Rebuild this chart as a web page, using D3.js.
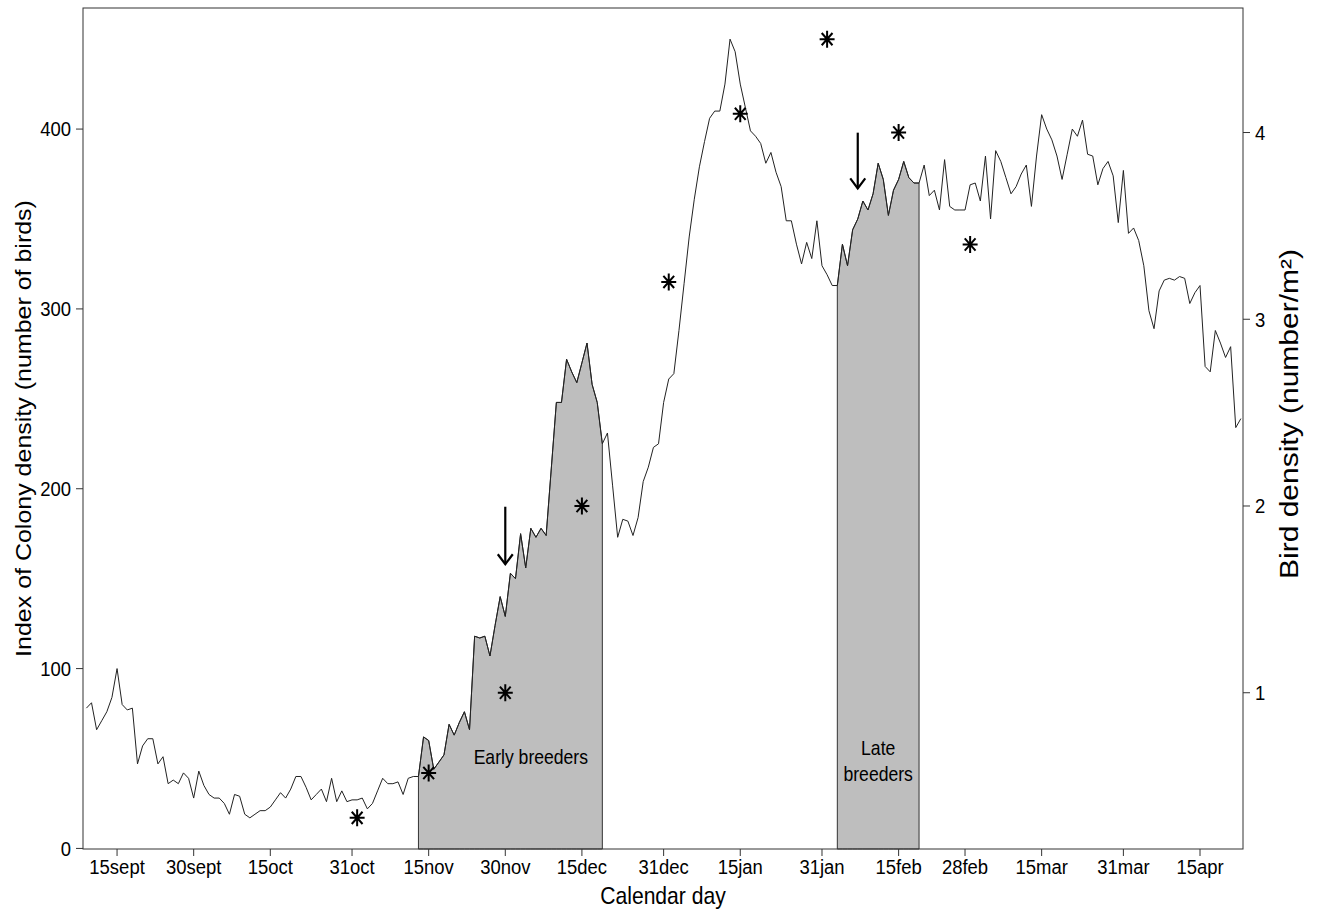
<!DOCTYPE html>
<html>
<head>
<meta charset="utf-8">
<script src="https://cdn.jsdelivr.net/npm/d3@7"></script>
<style>
  body { margin: 0; background: #fff; }
  text { font-family: "Liberation Sans", Arial, sans-serif; fill: #000; }
</style>
</head>
<body>
<svg id="chart" width="1317" height="915"></svg>
<script>
// Daily index of colony density (number of birds), one value per day from the first date
const firstDay = "2010-09-09";
const colonyIndex = [
  78, 81, 66, 71, 76, 84, 100, 80, 77, 78,
  47, 57, 61, 61, 47, 51, 36, 38, 36, 42,
  39, 28, 43, 35, 30, 28, 28, 25, 19, 30,
  29, 19, 17, 19, 21, 21, 23, 27, 31, 28,
  33, 40, 40, 34, 27, 30, 33, 26, 39, 26,
  32, 26, 27, 27, 28, 22, 25, 32, 39, 36,
  36, 37, 30, 39, 40, 40, 62, 60, 44, 48,
  52, 69, 63, 70, 76, 66, 118, 117, 118, 107,
  124, 140, 129, 153, 150, 175, 156, 178, 173, 178,
  174, 211, 248, 248, 272, 265, 259, 270, 281, 258,
  248, 225, 231, 202, 173, 183, 182, 174, 184, 204,
  212, 223, 225, 248, 261, 264, 288, 314, 340, 361,
  379, 393, 406, 410, 410, 425, 450, 443, 425, 412,
  399, 396, 392, 381, 387, 376, 368, 349, 349, 336,
  325, 337, 328, 349, 324, 319, 313, 313, 336, 324,
  344, 350, 360, 355, 364, 381, 372, 352, 366, 372,
  382, 373, 370, 370, 380, 363, 366, 355, 383, 357,
  355, 355, 355, 369, 370, 360, 385, 350, 388, 382,
  373, 364, 368, 375, 380, 357, 385, 408, 400, 394,
  385, 372, 386, 400, 396, 405, 386, 385, 369, 378,
  382, 374, 348, 377, 342, 345, 338, 324, 299, 289,
  310, 316, 317, 316, 318, 317, 303, 309, 313, 268,
  265, 288, 281, 273, 279, 234, 239
];

// Bird density counts (number per m²), right axis
const densityDates = ["2010-11-01", "2010-11-15", "2010-11-30", "2010-12-15", "2011-01-01",
                      "2011-01-15", "2011-02-01", "2011-02-15", "2011-03-01"];
const densityValues = [0.33, 0.57, 1.0, 2.0, 3.2, 4.1, 4.5, 4.0, 3.4];

// Breeding periods (shaded under the curve)
const periodStarts = ["2010-11-13", "2011-02-03"];
const periodEnds = ["2010-12-19", "2011-02-19"];
const periodLabels = [["Early breeders"], ["Late", "breeders"]];
const periodLabelDates = ["2010-12-05", "2011-02-11"];
const periodLabelValues = [51, 56];

// Arrows marking laying onset
const arrowDates = ["2010-11-30", "2011-02-07"];
const arrowFrom = [190, 398];
const arrowTo = [158, 367];

// Axis ticks
const tickDates = ["2010-09-15", "2010-09-30", "2010-10-15", "2010-10-31", "2010-11-15",
                   "2010-11-30", "2010-12-15", "2010-12-31", "2011-01-15", "2011-01-31",
                   "2011-02-15", "2011-02-28", "2011-03-15", "2011-03-31", "2011-04-15"];
const tickLabels = ["15sept", "30sept", "15oct", "31oct", "15nov", "30nov", "15dec", "31dec",
                    "15jan", "31jan", "15feb", "28feb", "15mar", "31mar", "15apr"];
const leftTicks = [0, 100, 200, 300, 400];
const rightTicks = [1, 2, 3, 4];

const parse = d3.timeParse("%Y-%m-%d");
const start = parse(firstDay);
const series = colonyIndex.map((v, i) => ({ date: d3.timeDay.offset(start, i), value: v }));

const plot = { left: 83, right: 1243, top: 8, bottom: 849 };
const sx = 0.88; // horizontal text compression

const svg = d3.select("#chart");
svg.append("rect").attr("width", 1317).attr("height", 915).attr("fill", "#fff");

// x domain runs a little before the first and after the last day
const x = d3.scaleTime()
  .domain([d3.timeHour.offset(start, -16), d3.timeHour.offset(series[series.length - 1].date, 10)])
  .range([plot.left, plot.right]);

// padded extents, 4% each side
function padded(ext) {
  const r = ext[1] - ext[0];
  return [ext[0] - 0.04 * r, ext[1] + 0.04 * r];
}
const yL = d3.scaleLinear().domain(padded(d3.extent(colonyIndex))).range([plot.bottom, plot.top]);
const yR = d3.scaleLinear().domain(padded(d3.extent(densityValues))).range([plot.bottom, plot.top]);

// shaded breeding periods
const area = d3.area().x(d => x(d.date)).y0(plot.bottom).y1(d => yL(d.value));
periodStarts.forEach((s, i) => {
  const a = parse(s), b = parse(periodEnds[i]);
  const seg = series.filter(d => d.date >= a && d.date <= b);
  svg.append("path").datum(seg).attr("d", area)
    .attr("fill", "#bebebe").attr("stroke", "#333").attr("stroke-width", 1);
});

// colony index line
svg.append("path").datum(series)
  .attr("d", d3.line().x(d => x(d.date)).y(d => yL(d.value)))
  .attr("fill", "none").attr("stroke", "#222").attr("stroke-width", 1);

// period labels
periodLabels.forEach((lines, i) => {
  const cx = x(parse(periodLabelDates[i]));
  const cy = yL(periodLabelValues[i]);
  lines.forEach((t, j) => {
    svg.append("text")
      .attr("transform", `translate(${cx},${cy + j * 26}) scale(${sx},1)`)
      .attr("text-anchor", "middle").attr("dy", "0.35em")
      .attr("font-size", 20).text(t);
  });
});

// arrows
arrowDates.forEach((d, i) => {
  const ax = x(parse(d)), y0 = yL(arrowFrom[i]), y1 = yL(arrowTo[i]);
  const g = svg.append("g").attr("stroke", "#000").attr("stroke-width", 2.2).attr("fill", "none");
  g.append("line").attr("x1", ax).attr("x2", ax).attr("y1", y0).attr("y2", y1);
  g.append("path").attr("d", `M${ax - 7.5},${y1 - 10}L${ax},${y1}L${ax + 7.5},${y1 - 10}`);
});

// bird density asterisks
densityDates.forEach((d, i) => {
  const px = x(parse(d)), py = yR(densityValues[i]);
  const h = 8.5, w = h * sx, dh = h * 0.72, dw = dh * sx;
  svg.append("path")
    .attr("d", `M${px},${py - h}V${py + h}M${px - w},${py}H${px + w}` +
               `M${px - dw},${py - dh}L${px + dw},${py + dh}M${px - dw},${py + dh}L${px + dw},${py - dh}`)
    .attr("stroke", "#000").attr("stroke-width", 2).attr("fill", "none");
});

// box
svg.append("rect")
  .attr("x", plot.left).attr("y", plot.top)
  .attr("width", plot.right - plot.left).attr("height", plot.bottom - plot.top)
  .attr("fill", "none").attr("stroke", "#333").attr("stroke-width", 1);

// x axis
const xTicks = svg.append("g");
tickDates.forEach((d, i) => {
  const px = x(parse(d));
  xTicks.append("line").attr("x1", px).attr("x2", px).attr("y1", plot.bottom).attr("y2", plot.bottom + 7)
    .attr("stroke", "#333");
  xTicks.append("text")
    .attr("transform", `translate(${px},874) scale(${sx},1)`)
    .attr("text-anchor", "middle").attr("font-size", 21).text(tickLabels[i]);
});

// left axis
leftTicks.forEach(v => {
  const py = yL(v);
  svg.append("line").attr("x1", plot.left - 7).attr("x2", plot.left).attr("y1", py).attr("y2", py).attr("stroke", "#333");
  svg.append("text")
    .attr("transform", `translate(${plot.left - 12},${py}) scale(${sx},1)`)
    .attr("text-anchor", "end").attr("dy", "0.35em").attr("font-size", 21).text(v);
});

// right axis
rightTicks.forEach(v => {
  const py = yR(v);
  svg.append("line").attr("x1", plot.right).attr("x2", plot.right + 7).attr("y1", py).attr("y2", py).attr("stroke", "#333");
  svg.append("text")
    .attr("transform", `translate(${plot.right + 12},${py}) scale(${sx},1)`)
    .attr("text-anchor", "start").attr("dy", "0.35em").attr("font-size", 21).text(v);
});

// axis titles
svg.append("text")
  .attr("transform", `translate(${(plot.left + plot.right) / 2},904) scale(${sx},1)`)
  .attr("text-anchor", "middle").attr("font-size", 24).text("Calendar day");
svg.append("text")
  .attr("transform", `translate(31,${(plot.top + plot.bottom) / 2}) scale(${sx},1) rotate(-90)`)
  .attr("text-anchor", "middle").attr("font-size", 25).text("Index of Colony density (number of birds)");
svg.append("text")
  .attr("transform", `translate(1298,414) scale(${sx},1) rotate(-90)`)
  .attr("text-anchor", "middle").attr("font-size", 30).text("Bird density (number/m²)");
</script>
</body>
</html>
